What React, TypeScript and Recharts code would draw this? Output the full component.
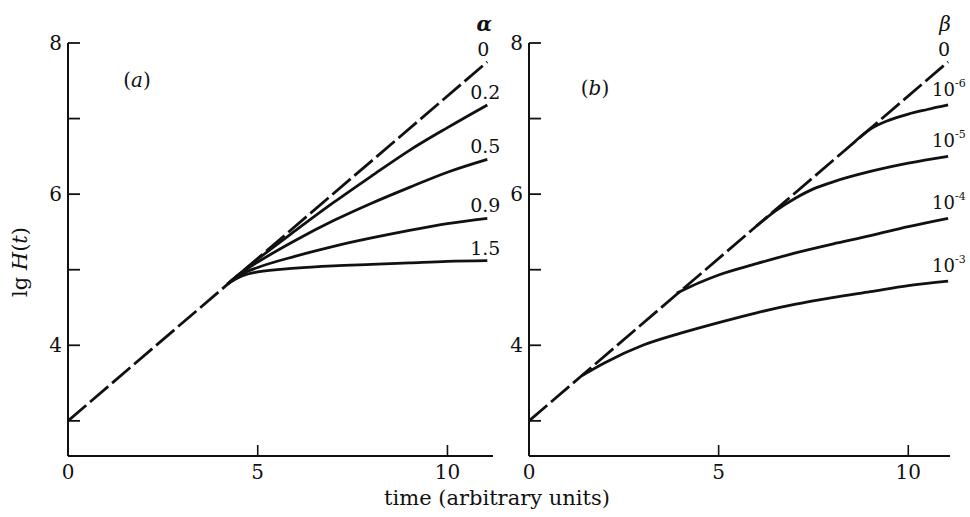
import { LabelList, Line, LineChart, XAxis, YAxis } from 'recharts'

const FONT = '"DejaVu Serif", serif'
const INK = '#111'

// pure exponential growth, drawn dashed in both panels
const baseT = [0, 11.05]
const baseLg = [3, 7.75]

// panel (a): growth slowed from t ≈ 4.2 for several α
const alphaT = [4.2, 4.6, 5, 6, 7, 8, 9, 10, 11.05]
const alpha02 = [4.81, 4.98, 5.14, 5.52, 5.89, 6.24, 6.58, 6.88, 7.18]
const alpha05 = [4.81, 4.97, 5.1, 5.39, 5.65, 5.88, 6.09, 6.29, 6.46]
const alpha09 = [4.81, 4.95, 5.03, 5.18, 5.31, 5.42, 5.52, 5.61, 5.68]
const alpha15 = [4.81, 4.92, 4.97, 5.02, 5.05, 5.07, 5.09, 5.11, 5.12]

// panel (b): each β leaves the exponential at its own time
const beta6T = [8.6, 9, 9.5, 10, 10.5, 11.05]
const beta6 = [6.7, 6.86, 6.98, 7.06, 7.12, 7.18]
const beta5T = [6, 6.5, 7, 7.5, 8, 9, 10, 11.05]
const beta5 = [5.58, 5.78, 5.94, 6.07, 6.16, 6.3, 6.41, 6.5]
const beta4T = [3.9, 4.5, 5, 6, 7, 8, 9, 10, 11.05]
const beta4 = [4.69, 4.83, 4.93, 5.08, 5.22, 5.34, 5.45, 5.57, 5.68]
const beta3T = [1.4, 2, 3, 4, 5, 6, 7, 8, 9, 10, 11.05]
const beta3 = [3.6, 3.77, 4.0, 4.16, 4.3, 4.43, 4.54, 4.63, 4.71, 4.79, 4.85]

const xTicks = [0, 5, 10]
const yTicks = [3, 4, 5, 6, 7, 8]
const yLabelled = [4, 6, 8]

const build = (ts: number[], vs: number[], lab: string) =>
  ts.map((t, i) => ({ t, v: vs[i], lab: i === ts.length - 1 ? lab : '' }))

const YTick = ({ x, y, payload }: any) => (
  <g>
    <line x1={x} y1={y} x2={x + 12} y2={y} stroke={INK} strokeWidth={1.8} />
    {yLabelled.includes(payload.value) && (
      <text x={x - 6} y={y} dy="0.36em" textAnchor="end" fontFamily={FONT} fontSize={20} fill={INK}>
        {payload.value}
      </text>
    )}
  </g>
)

const XTick = ({ x, y, payload }: any) => (
  <g>
    {payload.value > 0 && <line x1={x} y1={y} x2={x} y2={y - 11} stroke={INK} strokeWidth={1.6} />}
    <text x={x} y={y + 23} textAnchor="middle" fontFamily={FONT} fontSize={20} fill={INK}>
      {payload.value}
    </text>
  </g>
)

// plain number sitting just above a curve's end
const numLabel = ({ x, y, value }: any) =>
  value ? (
    <text x={x - 2} y={y - 6} textAnchor="middle" fontFamily={FONT} fontSize={19} fill={INK}>
      {value}
    </text>
  ) : null

// power of ten, exponent stored as the label
const powLabel = ({ x, y, value }: any) =>
  value ? (
    <text x={x - 16} y={y - 9} fontFamily={FONT} fontSize={18} fill={INK}>
      10
      <tspan dy={-9} fontSize={11}>
        {value}
      </tspan>
    </text>
  ) : null

// dashed curve gets its value plus the parameter's symbol above it
const headLabel = (sym: string) => ({ x, y, value }: any) =>
  value ? (
    <g fontFamily={FONT} fill={INK} textAnchor="middle">
      <text x={x - 4} y={y - 6} fontSize={19}>
        {value}
      </text>
      <text x={x - 3} y={y - 31} fontSize={20} fontStyle="italic" fontWeight={sym === 'α' ? 700 : 400}>
        {sym}
      </text>
    </g>
  ) : null

const alphaSeries = [
  { lab: '0.2', data: build(alphaT, alpha02, '0.2') },
  { lab: '0.5', data: build(alphaT, alpha05, '0.5') },
  { lab: '0.9', data: build(alphaT, alpha09, '0.9') },
  { lab: '1.5', data: build(alphaT, alpha15, '1.5') },
]

const betaSeries = [
  { lab: '-6', data: build(beta6T, beta6, '-6') },
  { lab: '-5', data: build(beta5T, beta5, '-5') },
  { lab: '-4', data: build(beta4T, beta4, '-4') },
  { lab: '-3', data: build(beta3T, beta3, '-3') },
]

const baseData = build(baseT, baseLg, '0')

// left edge of the plot is carried by the y axis width, bottom by the x axis height
function Panel({ xMax, series, sym, label, width, left, right }: any) {
  return (
    <LineChart width={width} height={517} margin={{ top: 43, right, bottom: 0, left: 0 }}>
      <XAxis
        type="number"
        dataKey="t"
        domain={[0, xMax]}
        ticks={xTicks}
        allowDataOverflow
        height={61}
        tickSize={0}
        tickMargin={0}
        tick={<XTick />}
        axisLine={{ stroke: INK, strokeWidth: 2 }}
        tickLine={false}
      />
      <YAxis
        type="number"
        domain={[2.535, 8]}
        ticks={yTicks}
        allowDataOverflow
        width={left}
        tickSize={0}
        tickMargin={0}
        tick={<YTick />}
        axisLine={{ stroke: INK, strokeWidth: 2 }}
        tickLine={false}
      />
      <Line
        data={baseData}
        dataKey="v"
        type="linear"
        stroke={INK}
        strokeWidth={2.8}
        strokeDasharray="24 5"
        dot={false}
        isAnimationActive={false}
      >
        <LabelList dataKey="lab" content={headLabel(sym)} />
      </Line>
      {series.map((s: any) => (
        <Line
          key={s.lab}
          data={s.data}
          dataKey="v"
          type="monotone"
          stroke={INK}
          strokeWidth={2.8}
          dot={false}
          isAnimationActive={false}
        >
          <LabelList dataKey="lab" content={label} />
        </Line>
      ))}
    </LineChart>
  )
}

export default function App() {
  return (
    <div style={{ position: 'absolute', left: 0, top: 0, width: 970, height: 517, background: '#fff' }}>
      <div style={{ position: 'absolute', left: 0, top: 0 }}>
        <Panel xMax={11.2} series={alphaSeries} sym="α" label={numLabel} width={505} left={68} right={12} />
      </div>
      <div style={{ position: 'absolute', left: 460, top: 0 }}>
        <Panel xMax={11.1} series={betaSeries} sym="β" label={powLabel} width={510} left={69} right={20} />
      </div>
      <svg
        width={970}
        height={517}
        style={{ position: 'absolute', left: 0, top: 0, pointerEvents: 'none' }}
        fontFamily={FONT}
        fill={INK}
      >
        <text x={137} y={87} fontSize={20} textAnchor="middle">
          (<tspan fontStyle="italic">a</tspan>)
        </text>
        <text x={595} y={95} fontSize={20} textAnchor="middle">
          (<tspan fontStyle="italic">b</tspan>)
        </text>
        <text transform="translate(27 262) rotate(-90)" fontSize={21} textAnchor="middle">
          lg <tspan fontStyle="italic">H</tspan>(<tspan fontStyle="italic">t</tspan>)
        </text>
        <text x={497} y={505} fontSize={21} textAnchor="middle">
          time (arbitrary units)
        </text>
      </svg>
    </div>
  )
}
